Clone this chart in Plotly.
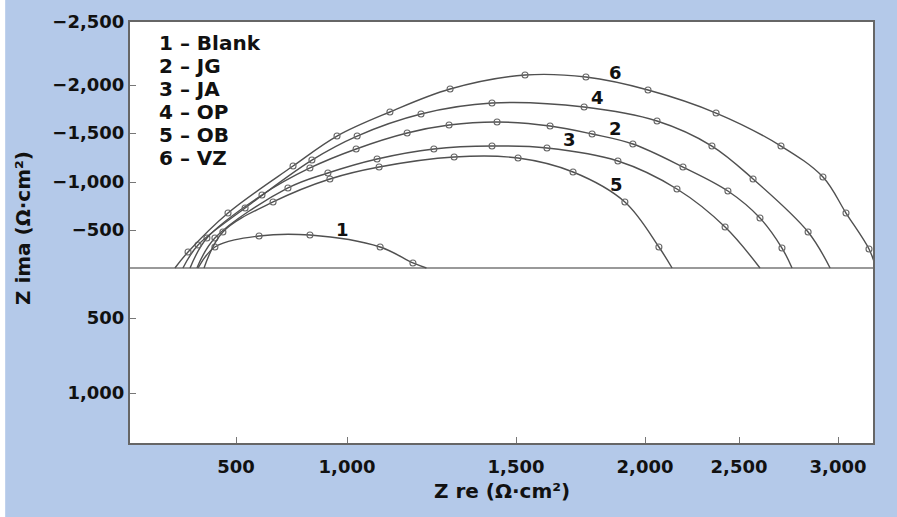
import numpy as np
import plotly.graph_objects as go

# ---- axis scale of the original figure (value -> position along the axis) ----
X_SCALE_VALUES = [0, 500, 1000, 1500, 2000, 2500, 3000, 3500]
X_SCALE_POS = [-5, 106, 217, 386, 515, 609, 708, 808]
Y_SCALE_VALUES = [-2500, -2000, -1500, -1000, -500, 0, 500, 1000, 1500]
Y_SCALE_POS = [246, 183, 135, 86, 38, 0, -50, -125, -200]

x_tick_values = [500, 1000, 1500, 2000, 2500, 3000]
x_tick_labels = ["500", "1,000", "1,500", "2,000", "2,500", "3,000"]
y_tick_values = [-2500, -2000, -1500, -1000, -500, 500, 1000]
y_tick_labels = ["\u22122,500", "\u22122,000", "\u22121,500", "\u22121,000", "\u2212500", "500", "1,000"]

# ---- data (Z re, Z ima in Ohm*cm2) ----
blank_re = [329, 405, 604, 833, 1098, 1195, 1235]
blank_im = [0, -276, -421, -434, -276, -66, 0]
jg_re = [293, 369, 617, 833, 1027, 1178, 1302, 1444, 1632, 1795, 1953, 2202, 2441, 2606, 2717, 2768]
jg_im = [0, -395, -865, -1143, -1337, -1500, -1583, -1615, -1573, -1490, -1388, -1153, -906, -625, -263, 0]
ja_re = [324, 405, 734, 914, 1089, 1257, 1429, 1620, 1895, 2170, 2426, 2606]
ja_im = [0, -395, -938, -1092, -1235, -1337, -1367, -1347, -1214, -927, -531, 0]
op_re = [261, 329, 541, 842, 1030, 1219, 1429, 1764, 2064, 2356, 2571, 2849, 2960]
op_im = [0, -303, -729, -1224, -1469, -1698, -1812, -1771, -1625, -1367, -1031, -474, 0]
ob_re = [356, 441, 667, 923, 1095, 1317, 1508, 1721, 1922, 2074, 2144]
ob_im = [0, -474, -792, -1031, -1153, -1255, -1245, -1102, -792, -276, 0]
vz_re = [225, 284, 464, 757, 955, 1127, 1305, 1535, 1771, 2016, 2378, 2712, 2924, 3040, 3155, 3190]
vz_im = [0, -211, -677, -1163, -1469, -1719, -1958, -2079, -2063, -1948, -1708, -1367, -1051, -677, -250, 0]

series_numbers = ["1", "2", "3", "4", "5", "6"]
series_names = ["Blank", "JG", "JA", "OP", "OB", "VZ"]
label_re = [978, 1884, 1709, 1814, 1891, 1884]
label_im = [-510, -1552, -1429, -1865, -969, -2103]


def sx(v):
    return np.interp(np.asarray(v, dtype=float), X_SCALE_VALUES, X_SCALE_POS)


def sy(v):
    return np.interp(np.asarray(v, dtype=float), Y_SCALE_VALUES, Y_SCALE_POS)


LINE = "#505050"
FONT = "DejaVu Sans"
INK = "#111111"

fig = go.Figure()
all_series = [(blank_re, blank_im), (jg_re, jg_im), (ja_re, ja_im),
              (op_re, op_im), (ob_re, ob_im), (vz_re, vz_im)]
for (re_, im_), name in zip(all_series, series_names):
    fig.add_trace(go.Scatter(
        x=sx(re_), y=sy(im_), mode="lines", name=name,
        line=dict(color=LINE, width=1.4, shape="spline", smoothing=1.0),
        hoverinfo="skip", showlegend=False, cliponaxis=True))
    fig.add_trace(go.Scatter(
        x=sx(re_[1:-1]), y=sy(im_[1:-1]), mode="markers", name=name,
        marker=dict(symbol="circle-open", size=6, color="#666666", line=dict(width=1.1)),
        showlegend=False))

annotations = []
for num, xr, yi in zip(series_numbers, label_re, label_im):
    annotations.append(dict(x=float(sx(xr)), y=float(sy(yi)), xref="x", yref="y",
                            xanchor="center", yanchor="middle",
                            text="<b>%s</b>" % num, showarrow=False,
                            font=dict(family=FONT, size=18, color=INK)))

# legend block (text list inside the plot)
legend_top = 0.95
for i, (num, name) in enumerate(zip(series_numbers, series_names)):
    annotations.append(dict(x=0.037, y=legend_top - i * 0.0545, xref="paper", yref="paper",
                            xanchor="left", yanchor="middle", showarrow=False,
                            text="<b>%s \u2013 %s</b>" % (num, name),
                            font=dict(family=FONT, size=20, color=INK)))

# axis titles
annotations.append(dict(x=0.501, y=-0.114, xref="paper", yref="paper", showarrow=False,
                        xanchor="center", yanchor="middle",
                        text="<b>Z re (\u03a9\u00b7cm\u00b2)</b>",
                        font=dict(family=FONT, size=20, color=INK)))
annotations.append(dict(x=-0.143, y=0.51, xref="paper", yref="paper", showarrow=False,
                        xanchor="center", yanchor="middle", textangle=-90,
                        text="<b>Z ima (\u03a9\u00b7cm\u00b2)</b>",
                        font=dict(family=FONT, size=20, color=INK)))

fig.update_layout(
    width=897, height=517,
    margin=dict(l=130, r=24, t=22, b=74),
    paper_bgcolor="#b4c9e9", plot_bgcolor="white",
    showlegend=False,
    annotations=annotations,
    shapes=[dict(type="rect", xref="paper", yref="paper", x0=-0.176, x1=-0.168,
                 y0=-0.2, y1=1.06, fillcolor="white", line=dict(width=0), layer="below")],
    xaxis=dict(range=[0, 743], showgrid=False, zeroline=False,
               tickvals=sx(x_tick_values), ticktext=x_tick_labels,
               ticks="inside", ticklen=6, tickwidth=1.2, tickcolor="#777777",
               showline=True, linecolor="#666666", linewidth=2, mirror=True,
               ticklabelstandoff=6,
               tickfont=dict(family=FONT, size=18, color=INK, weight="bold")),
    yaxis=dict(range=[-175, 246], showgrid=False,
               zeroline=True, zerolinecolor="#999999", zerolinewidth=2,
               tickvals=sy(y_tick_values), ticktext=y_tick_labels,
               ticks="inside", ticklen=6, tickwidth=1.2, tickcolor="#777777",
               showline=True, linecolor="#666666", linewidth=2, mirror=True,
               tickfont=dict(family=FONT, size=18, color=INK, weight="bold")),
)

fig.write_html("out.html",
               config={"displayModeBar": False},
               post_script="document.body.style.margin='0';document.body.style.overflow='hidden';")
